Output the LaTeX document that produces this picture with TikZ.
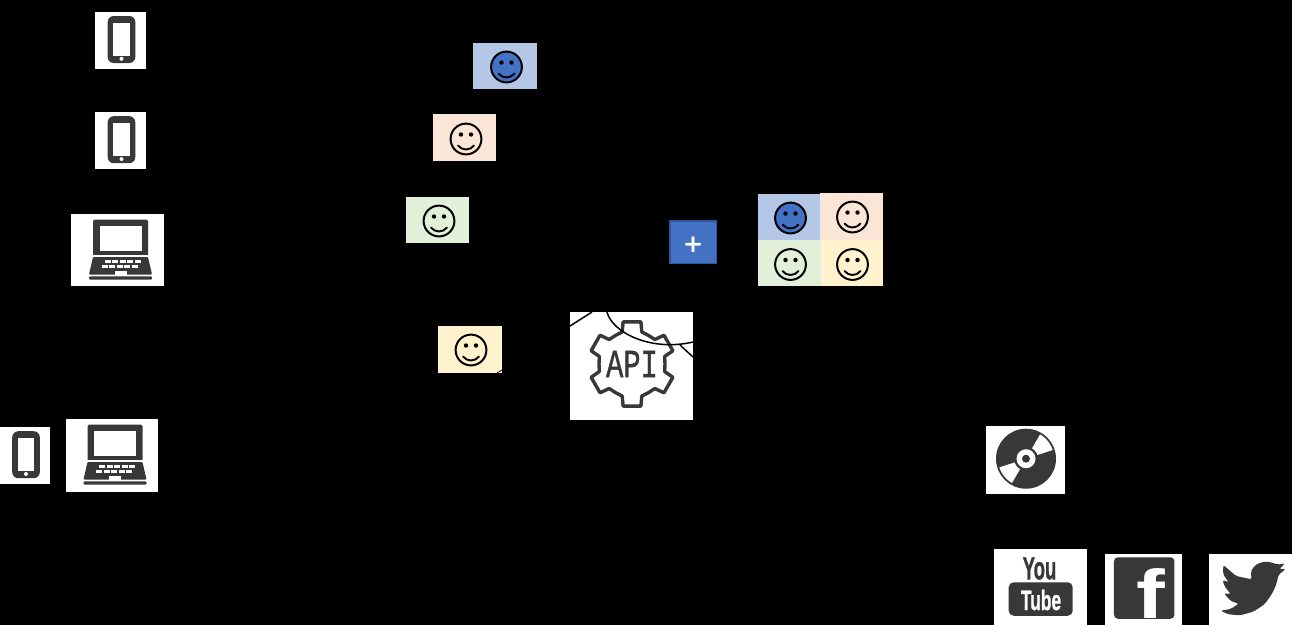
\documentclass[tikz,border=0pt]{standalone}
\usepackage{fontspec}
\setmainfont{Liberation Sans}
\newfontfamily\monoface[FakeBold=1.2]{Liberation Mono}
\newfontfamily\heavyface[FakeBold=1.2]{Liberation Sans Bold}
\newfontfamily\plusface[FakeBold=1.5]{Liberation Sans}
\definecolor{icon}{HTML}{383838}
\definecolor{paleblue}{HTML}{B4C7E7}
\definecolor{paleorange}{HTML}{FBE5D6}
\definecolor{palegreen}{HTML}{E2F0D9}
\definecolor{paleyellow}{HTML}{FFF2CC}
\definecolor{faceblue}{HTML}{4472C4}
\definecolor{plusedge}{HTML}{2F5597}
\tikzset{
  x=1pt,y=-1pt,
  card/.style={inner sep=0pt,outer sep=0pt,draw=none,fill=white,minimum width=#1},
  tile/.style={inner sep=0pt,outer sep=0pt,draw=none,fill=#1},
  wire/.style={draw=black,line width=1.5pt},
  phone/.pic={
    \fill[icon,rounded corners=6pt] (-13.8,-23.5) rectangle (13.8,23.5);
    \fill[white] (-8.2,-17) rectangle (8.2,16);
    \fill[white] (0,19.3) circle (2);
  },
  laptop/.pic={
    \fill[icon,rounded corners=1.5pt] (-27.5,-30.5) rectangle (27.5,6);
    \fill[white] (-21,-24.5) rectangle (21,0.5);
    \fill[white] (-30,5) rectangle (30,7);
    \fill[icon,rounded corners=1pt] (-27.5,7) -- (27.5,7) -- (31.5,24.5) -- (-31.5,24.5) -- cycle;
    \fill[icon,rounded corners=1pt] (-31.5,26.3) rectangle (31.5,29.5);
    \foreach \k in {0,...,4} {
      \fill[white] ({-16+\k*7.6},10) rectangle ({-10+\k*7.6},13);
      \fill[white] ({-19+\k*7.6},15) rectangle ({-13+\k*7.6},18);
    }
    \fill[white] (-6,20.5) rectangle (6,24.5);
  },
  smiley/.pic={
    \draw[black,line width=2pt,fill=#1] (0,0) circle (15.4);
    \fill[black] (-5,-4.5) circle (2.2);
    \fill[black] (5,-4.5) circle (2.2);
    \draw[black,line width=1.9pt,line cap=round] (-8,6.5) .. controls (-4,11.8) and (4,11.8) .. (8,6.5);
  }
}
\begin{document}
\begin{tikzpicture}
\path[use as bounding box,fill=black] (0,0) rectangle (1292,625);

% device cards
\node[card=51pt,minimum height=57pt] (phoneA) at (120.5,40.5) {};
\node[card=51pt,minimum height=57pt] (phoneB) at (120.5,140.5) {};
\node[card=93pt,minimum height=72pt] (laptopA) at (117.5,250) {};
\node[card=50pt,minimum height=57pt] (phoneC) at (25,455.5) {};
\node[card=92pt,minimum height=73pt] (laptopB) at (112,455.5) {};
\pic at (121.5,39.5) {phone};
\pic at (121.5,139.7) {phone};
\pic at (120.5,250) {laptop};
\pic at (26,454.7) {phone};
\pic at (115,455) {laptop};

% single faces
\node[tile=paleblue,minimum width=64pt,minimum height=46pt] (faceA) at (505,66) {};
\node[tile=paleorange,minimum width=63pt,minimum height=47pt] (faceB) at (464.5,137.5) {};
\node[tile=palegreen,minimum width=63pt,minimum height=46pt] (faceC) at (437.5,220) {};
\node[tile=paleyellow,minimum width=64pt,minimum height=47pt] (faceD) at (470,349.5) {};
\pic at (506.5,67) {smiley=faceblue};
\pic at (466,139) {smiley=paleorange};
\pic at (439,221) {smiley=palegreen};
\pic at (471,350) {smiley=paleyellow};
\coordinate (yellowNickA) at (497,373);
\coordinate (yellowNickB) at (502,370);
\draw[black,line width=.8pt] (yellowNickA) -- (yellowNickB);

% plus
\node[tile=faceblue,draw=plusedge,line width=1.5pt,minimum width=46.5pt,minimum height=42.5pt] (plus) at (693,242) {};
\node[inner sep=0pt,text=white,font=\plusface\fontsize{30}{30}\selectfont] (plustext) at (693,245.5) {+};

% grid of faces
\node[tile=paleblue,minimum width=62pt,minimum height=46pt] (gridA) at (789,217) {};
\node[tile=paleorange,minimum width=63pt,minimum height=47pt] (gridB) at (851.5,216.5) {};
\node[tile=palegreen,minimum width=63pt,minimum height=46pt] (gridC) at (789.5,263) {};
\node[tile=paleyellow,minimum width=62pt,minimum height=46pt] (gridD) at (852,263) {};
\pic at (790.5,218) {smiley=faceblue};
\pic at (852.5,217) {smiley=paleorange};
\pic at (790.5,264.5) {smiley=palegreen};
\pic at (852.5,264.5) {smiley=paleyellow};

% API gear
\node[card=123pt,minimum height=108pt] (api) at (631.5,366) {};
\begin{scope}[shift={(632,364)}]
  \draw[icon,line width=3.4pt,line join=round]
    (73:33.5) -- (78:43) -- (102:43) -- (107:33.5)
    -- (120:33) -- (133:33.5) -- (138:43) -- (162:43) -- (167:33.5)
    -- (180:33) -- (193:33.5) -- (198:43) -- (222:43) -- (227:33.5)
    -- (240:33) -- (253:33.5) -- (258:43) -- (282:43) -- (287:33.5)
    -- (300:33) -- (313:33.5) -- (318:43) -- (342:43) -- (347:33.5)
    -- (0:33) -- (13:33.5) -- (18:43) -- (42:43) -- (47:33.5)
    -- (60:33) -- cycle;
  \node[inner sep=0pt,text=icon,font=\monoface\fontsize{40}{40}\selectfont,xscale=.72] (apitext) at (0,0) {API};
\end{scope}
\coordinate (wireA) at (570,326);
\coordinate (wireB) at (592,312);
\coordinate (wireC) at (607,312);
\coordinate (wireD) at (693,342);
\coordinate (wireE) at (680,345);
\coordinate (wireF) at (693,357);
\draw[wire] (wireA) -- (wireB);
\draw[wire] (wireC) .. controls (612,332) and (650,352) .. (wireD);
\draw[wire] (wireE) -- (wireF);

% disc
\node[card=79pt,minimum height=68pt] (disc) at (1025.5,460) {};
\begin{scope}[shift={(1026,458.7)}]
  \fill[icon] (0,0) circle (30);
  \fill[white] plot[domain=-60:-18,samples=12] (\x:28) -- plot[domain=-18:-60,samples=6] (\x:12) -- cycle;
  \fill[white] plot[domain=120:162,samples=12] (\x:28) -- plot[domain=162:120,samples=6] (\x:12) -- cycle;
  \fill[white] (0,0) circle (9.5);
  \fill[icon] (0,0) circle (4);
\end{scope}

% social cards
\node[card=93pt,minimum height=76pt] (youtube) at (1040.5,587) {};
\node[card=77pt,minimum height=71pt] (facebook) at (1143.5,589.5) {};
\node[card=83pt,minimum height=71pt] (twitter) at (1250.5,589.5) {};

\node[inner sep=0pt,text=icon,font=\heavyface\fontsize{32}{32}\selectfont,xscale=.58,anchor=base] (you) at (1039.5,579.3) {You};
\node[fill=icon,rounded corners=5pt,inner sep=0pt,minimum width=64pt,minimum height=33.5pt] (tube) at (1040.7,599) {};
\node[inner sep=0pt,text=white,font=\heavyface\fontsize{28}{28}\selectfont,xscale=.62,anchor=base] (tubetext) at (1041,610) {Tube};

\node[fill=icon,rounded corners=4pt,inner sep=0pt,minimum width=60.5pt,minimum height=61.5pt] (fbsquare) at (1144.2,588) {};
\node[inner sep=0pt,text=white,font=\bfseries\fontsize{69}{69}\selectfont,xscale=1.25,anchor=base] (fbtext) at (1150.5,618.5) {f};

\begin{scope}[shift={(980,420)},scale=1/3]
  \fill[icon,rounded corners=2pt] (860,425) -- (878,428) -- (893,434) -- (915,430) -- (898,447) -- (917,447) -- (895,465)
    -- (890,490) -- (878,518) -- (855,552) -- (820,575) -- (780,586) -- (745,583) -- (722,572) -- (752,567) -- (776,551)
    -- (752,543) -- (732,520) -- (752,522) -- (733,498) -- (728,480) -- (746,487) -- (729,462) -- (730,435)
    -- (768,468) -- (815,478) -- (812,455) -- (825,436) -- (843,427) -- cycle;
\end{scope}
\end{tikzpicture}
\end{document}
